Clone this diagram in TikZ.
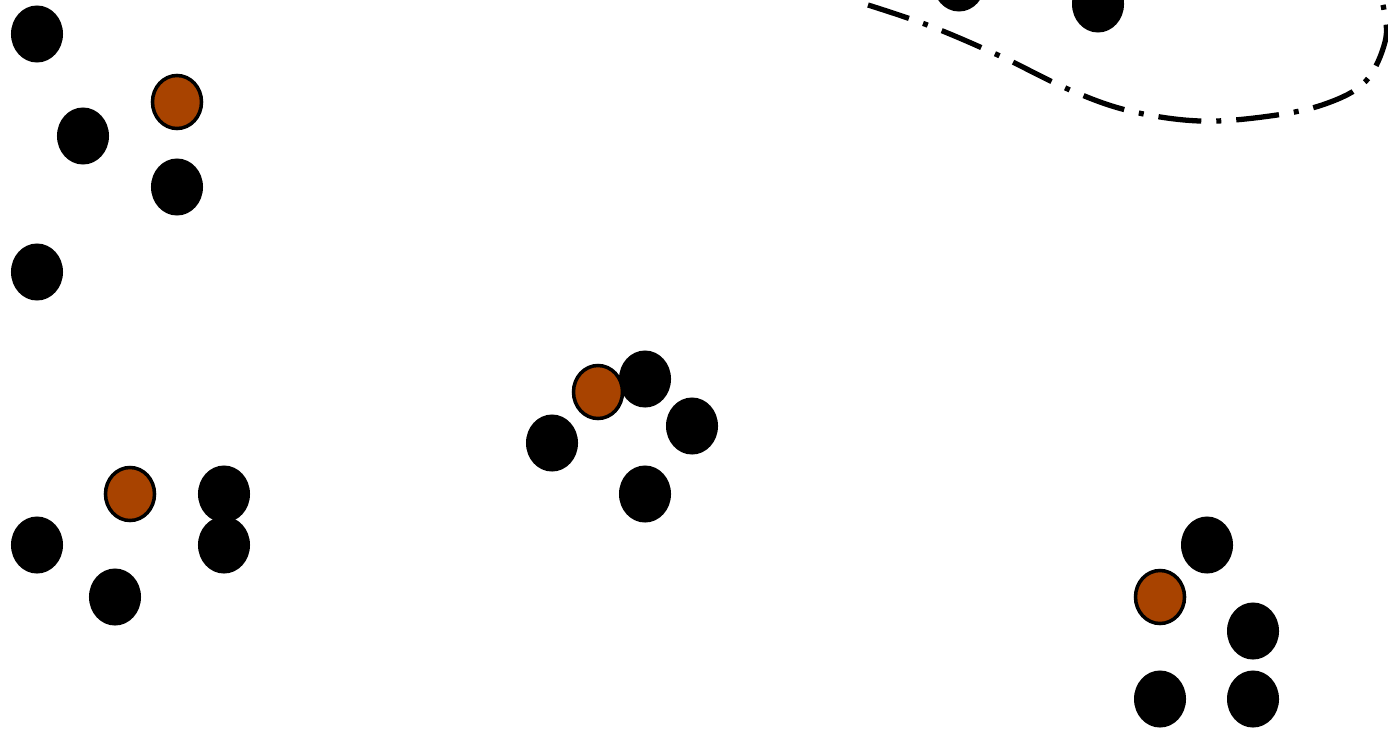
\documentclass[tikz,border=0pt]{standalone}
\usepackage{tikz}
\usetikzlibrary{shapes.geometric}
\definecolor{rust}{RGB}{168,67,0}
\tikzset{dot/.style={ellipse,fill=black,inner sep=0pt,minimum width=0.52cm,minimum height=0.57cm},hub/.style={ellipse,draw=black,fill=rust,line width=1pt,inner sep=0pt,minimum width=0.49cm,minimum height=0.53cm},border/.style={line width=1.5pt,dash pattern=on 0.43cm off 0.15cm on 0.05cm off 0.15cm}}

\begin{document}
\begin{tikzpicture}[x=0.01cm,y=-0.01cm]
\useasboundingbox (0,0) rectangle (1388,730);
\clip (0,0) rectangle (1388,730);
% upper left group
\foreach \n/\x/\y in {a1/37/34,a2/83/136,a3/177/187,a4/37/272}{\node[dot] (\n) at (\x,\y) {};}
\node[hub] (ah) at (177,102) {};
% centre group
\foreach \n/\x/\y in {b1/645/379,b2/552/443,b3/692/426,b4/645/494}{\node[dot] (\n) at (\x,\y) {};}
\node[hub] (bh) at (598,392) {};
% lower left group
\foreach \n/\x/\y in {c1/224/494,c2/224/545,c3/37/545,c4/115/597}{\node[dot] (\n) at (\x,\y) {};}
\node[hub] (ch) at (130,494) {};
% lower right group
\foreach \n/\x/\y in {d1/1207/545,d2/1253/631,d3/1160/699,d4/1253/699}{\node[dot] (\n) at (\x,\y) {};}
\node[hub] (dh) at (1160,597) {};
% top group, cut by the edge
\node[dot] (e1) at (959,-17) {};
\node[dot] (e2) at (1098,4) {};
\draw[border] plot[smooth,tension=0.6] coordinates {(868,5) (930,26) (1000,56) (1070,90) (1130,111) (1200,121) (1270,116) (1325,104) (1365,82) (1385,42) (1384,10) (1376,-20)};
\end{tikzpicture}
\end{document}
